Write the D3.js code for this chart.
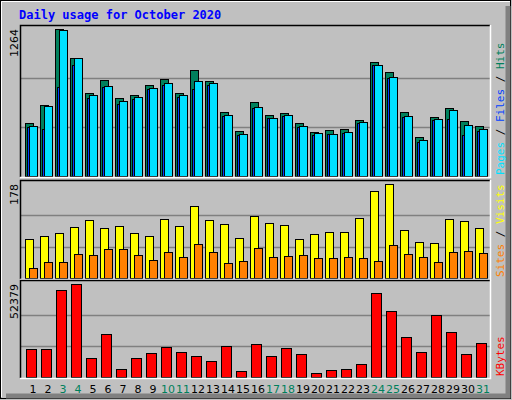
<!DOCTYPE html>
<html><head><meta charset="utf-8">
<script src="https://cdn.jsdelivr.net/npm/d3@7"></script>
<style>body{margin:0;background:#fff}</style>
</head><body><svg id="chart" width="512" height="400"></svg>
<script>
const days = d3.range(1, 32);
const weekends = [3, 4, 10, 11, 17, 18, 24, 25, 31];
const hits = [456, 611, 1264, 1015, 714, 826, 671, 697, 783, 834, 714, 912, 817, 550, 387, 636, 525, 542, 456, 378, 396, 404, 482, 980, 894, 550, 335, 507, 585, 473, 430];
const pages = [430, 602, 1256, 1015, 697, 774, 645, 679, 757, 800, 697, 817, 800, 525, 361, 593, 499, 525, 430, 370, 361, 378, 464, 955, 851, 516, 310, 490, 568, 439, 404];
const files = [421, 404, 765, 955, 671, 765, 619, 662, 748, 783, 679, 748, 783, 516, 353, 585, 499, 516, 421, 353, 361, 370, 456, 955, 843, 507, 292, 482, 490, 353, 387];
const visits = [74, 80, 85, 97, 109, 95, 99, 85, 80, 112, 99, 136, 109, 103, 76, 118, 105, 101, 74, 84, 87, 87, 114, 165, 178, 91, 68, 66, 111, 107, 95];
const sites = [18, 31, 30, 45, 43, 55, 55, 43, 35, 49, 39, 64, 49, 28, 33, 57, 39, 41, 43, 37, 37, 39, 37, 33, 62, 45, 39, 31, 49, 51, 47];
const kbytes = [15620, 15620, 48770, 52379, 10480, 24190, 4760, 10480, 13330, 16760, 13900, 11620, 8760, 17330, 3620, 18480, 11620, 16190, 12760, 2480, 4190, 4760, 7050, 47050, 37340, 22480, 13900, 35050, 25340, 12760, 19050];

const svg = d3.select('#chart');
const font = 'DejaVu Sans Mono, monospace';

svg.append('rect').attr('width', 512).attr('height', 400).attr('fill', '#c0c0c0');
svg.append('rect').attr('x', 0.5).attr('y', 0.5).attr('width', 510).attr('height', 398)
    .attr('fill', 'none').attr('stroke', '#000');
svg.append('path').attr('d', 'M508,6V396H6').attr('fill', 'none').attr('stroke', '#808080').attr('stroke-width', 5);
svg.append('path').attr('d', 'M1.5,397V1.5H510').attr('fill', 'none').attr('stroke', '#fff');

svg.append('text').attr('x', 19).attr('y', 19)
    .attr('font-family', font).attr('font-weight', 'bold').attr('font-size', 12)
    .attr('fill', '#0000ff').text('Daily usage for October 2020');

const x = d3.scaleBand().domain(days).range([20, 485]);
const L = 20, R = 490;

function panel(top, bottom, max, series, rightLabels, maxLabel) {
    const y = d3.scaleLinear().domain([0, max]).range([bottom - 1, top + 4]);
    const g = svg.append('g');
    g.append('rect').attr('x', L).attr('y', top).attr('width', R - L).attr('height', bottom - top)
        .attr('fill', '#c0c0c0');
    [max / 3, max * 2 / 3].forEach(v => {
        g.append('line').attr('x1', L).attr('x2', R).attr('y1', Math.round(y(v)) + 0.5).attr('y2', Math.round(y(v)) + 0.5)
            .attr('stroke', '#808080').attr('stroke-width', 1.5);
    });
    series.forEach(s => {
        g.selectAll(null).data(s.values).enter().append('rect')
            .attr('x', (d, i) => x(days[i]) + s.dx + 0.5)
            .attr('y', d => Math.round(y(d)) + 0.5)
            .attr('width', s.w)
            .attr('height', d => bottom - 1 - Math.round(y(d)))
            .attr('fill', s.color).attr('stroke', '#000').attr('stroke-width', s.sw || 1);
    });
    g.append('path').attr('d', `M${L + 0.5},${bottom}V${top + 0.5}H${R}`).attr('fill', 'none').attr('stroke', '#000').attr('stroke-width', 1.5);
    g.append('path').attr('d', `M${R + 0.5},${top}V${bottom + 0.5}H${L}`).attr('fill', 'none').attr('stroke', '#fff').attr('stroke-width', 1.5);
    g.append('text').attr('transform', `translate(18,${top + 4}) rotate(-90)`)
        .attr('text-anchor', 'end').attr('font-family', 'DejaVu Sans, sans-serif').attr('font-size', 11)
        .text(maxLabel);
    const t = g.append('text').attr('transform', `translate(504,${bottom - 2}) rotate(-90)`)
        .attr('font-family', font).attr('font-size', 11);
    rightLabels.forEach(l => t.append('tspan').attr('fill', l[1]).text(l[0]));
}

panel(25, 177, 1264, [
    {values: hits, dx: 5, w: 8, color: '#00805c'},
    {values: files, dx: 7, w: 4, color: '#0040ff'},
    {values: pages, dx: 9, w: 8, color: '#00e0ff'}
], [['Pages', '#00e0ff'], [' / ', '#000'], ['Files', '#0040ff'], [' / ', '#000'], ['Hits', '#00805c']], '1264');

panel(180, 279, 178, [
    {values: visits, dx: 5, w: 8, color: '#ffff00'},
    {values: sites, dx: 9, w: 8, color: '#ff8000'}
], [['Sites', '#ff8000'], [' / ', '#000'], ['Visits', '#ffff00']], '178');

panel(280, 378, 52379, [
    {values: kbytes, dx: 6, w: 10, color: '#ff0000'}
], [['KBytes', '#ff0000']], '52379');

svg.selectAll('.day').data(days).enter().append('text')
    .attr('x', d => x(d) + 13).attr('y', 393)
    .attr('text-anchor', 'middle').attr('font-family', 'DejaVu Sans, sans-serif').attr('font-size', 11)
    .attr('fill', d => weekends.includes(d) ? '#00805c' : '#000')
    .text(d => d);
</script>
</body></html>
